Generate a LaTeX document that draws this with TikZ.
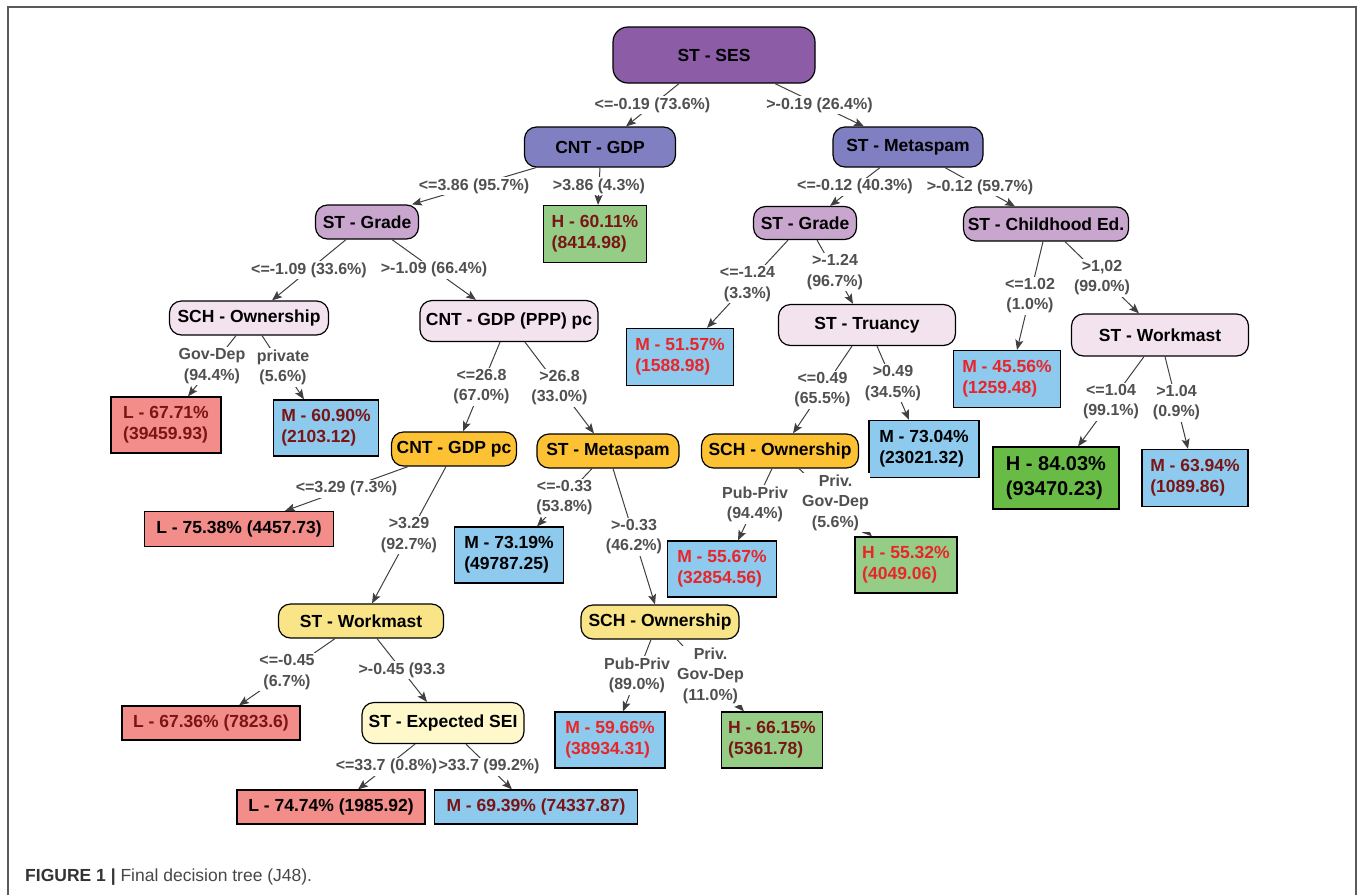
\documentclass[tikz,border=0pt]{standalone}
\usepackage{fontspec}
\setmainfont{Liberation Sans}
\usetikzlibrary{arrows.meta}
\definecolor{cRoot}{HTML}{8C5DA6}
\definecolor{cTwo}{HTML}{7F7FC1}
\definecolor{cThree}{HTML}{C8A6CE}
\definecolor{cFour}{HTML}{F2E3EF}
\definecolor{cOrange}{HTML}{FCC233}
\definecolor{cYellow}{HTML}{F9E588}
\definecolor{cPale}{HTML}{FEF8CA}
\definecolor{cLow}{HTML}{F28D89}
\definecolor{cMid}{HTML}{8DCAEE}
\definecolor{cHigh}{HTML}{95CD87}
\definecolor{cHighB}{HTML}{68BC45}
\definecolor{tRed}{HTML}{E8262A}
\definecolor{tDark}{HTML}{7A1515}
\definecolor{lblgray}{HTML}{505050}
\definecolor{linegray}{HTML}{404040}
\definecolor{framegray}{HTML}{5A5A5A}
\newcommand\boxfont{\fontsize{17.5}{21}\selectfont\bfseries}
\newcommand\condfont{\fontsize{16}{20.5}\selectfont\bfseries}
\tikzset{
  sz/.style 2 args={minimum width=#1pt, minimum height=#2pt},
  splitnode/.style={draw=black, line width=1.2pt, rounded corners=12pt,
    font=\boxfont, inner sep=2pt},
  leafnode/.style={draw=black, line width=1.2pt, font=\boxfont,
    align=left, inner sep=2pt},
  cond/.style={fill=white, font=\condfont, text=lblgray, align=center,
    inner sep=1.5pt},
  branch/.style={draw=linegray, line width=1pt,
    -{Stealth[length=10pt,width=8pt,inset=2pt]}},
  frame/.style={draw=framegray, line width=1.5pt}
}
\begin{document}
\begin{tikzpicture}[x=1pt,y=-1pt]
  \useasboundingbox (0,0) rectangle (1360,895);
  \draw[frame] (8,895) -- (8,7) -- (1356,7) -- (1356,895);

  \node[splitnode, fill=cRoot, sz={202}{56}, rounded corners=15pt] (ses) at (714,55) {ST - SES};
  \node[splitnode, fill=cTwo, sz={151}{40}] (gdp) at (600,147) {CNT - GDP};
  \node[splitnode, fill=cTwo, sz={150}{40}] (meta) at (908,147) {ST - Metaspam};
  \node[splitnode, fill=cThree, sz={103}{34}] (gradeL) at (367,222) {ST - Grade};
  \node[leafnode, fill=cHigh, text=tDark, sz={103}{57}] (h6011) at (595,234) {H - 60.11\%\\(8414.98)};
  \node[splitnode, fill=cThree, sz={103}{33}] (gradeR) at (805,223) {ST - Grade};
  \node[splitnode, fill=cThree, sz={165}{34}] (child) at (1046,224) {ST - Childhood Ed.};

  \node[splitnode, fill=cFour, sz={159}{34}] (own1) at (249,318) {SCH - Ownership};
  \node[splitnode, fill=cFour, sz={178}{41}] (ppp) at (509,321) {CNT - GDP (PPP) pc};
  \node[leafnode, fill=cLow, text=tDark, sz={110}{56}] (l6771) at (166,425) {L - 67.71\%\\(39459.93)};
  \node[leafnode, fill=cMid, text=tDark, sz={105}{56}] (m6090) at (326,428) {M - 60.90\%\\(2103.12)};
  \node[splitnode, fill=cOrange, sz={125}{34}] (gdppc) at (454,449) {CNT - GDP pc};
  \node[splitnode, fill=cOrange, sz={142}{34}] (meta2) at (608,451) {ST - Metaspam};
  \node[leafnode, fill=cLow, sz={189}{35}] (l7538) at (239,529) {L - 75.38\% (4457.73)};
  \node[leafnode, fill=cMid, sz={109}{56}] (m7319) at (509,555) {M - 73.19\%\\(49787.25)};

  \node[splitnode, fill=cFour, sz={177}{41}] (truancy) at (867,325) {ST - Truancy};
  \node[leafnode, fill=cMid, text=tRed, sz={107}{57}] (m5157) at (680,357) {M - 51.57\%\\(1588.98)};
  \node[leafnode, fill=cMid, text=tRed, sz={107}{57}] (m4556) at (1007,379) {M - 45.56\%\\(1259.48)};
  \node[splitnode, fill=cFour, sz={177}{42}] (work2) at (1160,335) {ST - Workmast};
  \node[splitnode, fill=cOrange, sz={157}{34}] (own2) at (780,451) {SCH - Ownership};
  \node[leafnode, fill=cMid, sz={110}{57}] (m7304) at (924,449) {M - 73.04\%\\(23021.32)};
  \node[leafnode, fill=cHighB, sz={126}{62}, font={\fontsize{20}{25}\selectfont\bfseries}] (h8403) at (1056,478) {H - 84.03\%\\(93470.23)};
  \node[leafnode, fill=cMid, text=tDark, sz={106}{57}] (m6394) at (1195,478) {M - 63.94\%\\(1089.86)};
  \node[leafnode, fill=cMid, text=tRed, sz={109}{56}] (m5567) at (722,569) {M - 55.67\%\\(32854.56)};
  \node[leafnode, fill=cHigh, text=tRed, sz={102}{56}] (h5532) at (906,565) {H - 55.32\%\\(4049.06)};

  \node[splitnode, fill=cYellow, sz={165}{34}] (work1) at (361,621) {ST - Workmast};
  \node[splitnode, fill=cYellow, sz={158}{34}] (own3) at (660,622) {SCH - Ownership};
  \node[leafnode, fill=cLow, text=tDark, sz={178}{34}] (l6736) at (211,723) {L - 67.36\% (7823.6)};
  \node[splitnode, fill=cPale, sz={162}{41}] (sei) at (443,723) {ST - Expected SEI};
  \node[leafnode, fill=cMid, text=tRed, sz={110}{56}] (m5966) at (610,740) {M - 59.66\%\\(38934.31)};
  \node[leafnode, fill=cHigh, text=tDark, sz={101}{56}] (h6615) at (772,740) {H - 66.15\%\\(5361.78)};
  \node[leafnode, fill=cLow, sz={188}{34}] (l7474) at (331,807) {L - 74.74\% (1985.92)};
  \node[leafnode, fill=cMid, text=tDark, sz={203}{34}] (m6939) at (536,807) {M - 69.39\% (74337.87)};

  \draw[branch] ([xshift=-35]ses.south) -- node[cond] {<=-0.19 (73.6\%)} ([xshift=26]gdp.north);
  \draw[branch] ([xshift=61]ses.south) -- node[cond] {>-0.19 (26.4\%)} ([xshift=-44]meta.north);
  \draw[branch] ([xshift=-64]gdp.south) -- node[cond] {<=3.86 (95.7\%)} ([xshift=45]gradeL.north);
  \draw[branch] ([xshift=0]gdp.south) -- node[cond] {>3.86 (4.3\%)} ([xshift=3]h6011.north);
  \draw[branch] ([xshift=-28]meta.south) -- node[cond] {<=-0.12 (40.3\%)} ([xshift=25]gradeR.north);
  \draw[branch] ([xshift=37]meta.south) -- node[cond] {>-0.12 (59.7\%)} ([xshift=-31]child.north);
  \draw[branch] ([xshift=-21]gradeL.south) -- node[cond] {<=-1.09 (33.6\%)} ([xshift=23]own1.north);
  \draw[branch] ([xshift=25]gradeL.south) -- node[cond] {>-1.09 (66.4\%)} ([xshift=-33]ppp.north);
  \draw[branch] ([xshift=-13]own1.south) -- node[cond] {Gov-Dep\\(94.4\%)} ([xshift=22]l6771.north);
  \draw[branch] ([xshift=13]own1.south) -- node[cond] {private\\(5.6\%)} ([xshift=-22]m6090.north);
  \draw[branch] ([xshift=-9]ppp.south) -- node[cond] {<=26.8\\(67.0\%)} ([xshift=9]gdppc.north);
  \draw[branch] ([xshift=16]ppp.south) -- node[cond] {>26.8\\(33.0\%)} ([xshift=-14]meta2.north);
  \draw[branch] ([xshift=-46]gdppc.south) -- node[cond] {<=3.29 (7.3\%)} ([xshift=46]l7538.north);
  \draw[branch] ([xshift=-8]gdppc.south) -- node[cond] {>3.29\\(92.7\%)} ([xshift=11]work1.north);
  \draw[branch] ([xshift=-16]meta2.south) -- node[cond] {<=-0.33\\(53.8\%)} ([xshift=28]m7319.north);
  \draw[branch] ([xshift=5]meta2.south) -- node[cond] {>-0.33\\(46.2\%)} ([xshift=-5]own3.north);
  \draw[branch] ([xshift=-17]gradeR.south) -- node[cond] {<=-1.24\\(3.3\%)} ([xshift=27]m5157.north);
  \draw[branch] ([xshift=12]gradeR.south) -- node[cond] {>-1.24\\(96.7\%)} ([xshift=-14]truancy.north);
  \draw[branch] ([xshift=-3]child.south) -- node[cond] {<=1.02\\(1.0\%)} ([xshift=10]m4556.north);
  \draw[branch] ([xshift=19]child.south) -- node[cond] {>1,02\\(99.0\%)} ([xshift=-21]work2.north);
  \draw[branch] ([xshift=-15]truancy.south) -- node[cond] {<=0.49\\(65.5\%)} ([xshift=13]own2.north);
  \draw[branch] ([xshift=10]truancy.south) -- node[cond] {>0.49\\(34.5\%)} ([xshift=-15]m7304.north);
  \draw[branch] ([xshift=-16]work2.south) -- node[cond] {<=1.04\\(99.1\%)} ([xshift=22]h8403.north);
  \draw[branch] ([xshift=5]work2.south) -- node[cond] {>1.04\\(0.9\%)} ([xshift=-7]m6394.north);
  \draw[branch] ([xshift=-8]own2.south) -- node[cond] {Pub-Priv\\(94.4\%)} ([xshift=16]m5567.north);
  \draw[branch] ([xshift=19]own2.south) -- node[cond] {Priv.\\Gov-Dep\\(5.6\%)} ([xshift=-34]h5532.north);
  \draw[branch] ([xshift=-26]work1.south) -- node[cond] {<=-0.45\\(6.7\%)} ([xshift=28]l6736.north);
  \draw[branch] ([xshift=16]work1.south) -- node[cond] {>-0.45 (93.3} ([xshift=-16]sei.north);
  \draw[branch] ([xshift=-9]own3.south) -- node[cond] {Pub-Priv\\(89.0\%)} ([xshift=13]m5966.north);
  \draw[branch] ([xshift=17]own3.south) -- node[cond] {Priv.\\Gov-Dep\\(11.0\%)} ([xshift=-28]h6615.north);
  \draw[branch] ([xshift=-28]sei.south) -- node[cond] {<=33.7 (0.8\%)} ([xshift=27]l7474.north);
  \draw[branch] ([xshift=23]sei.south) -- node[cond] {>33.7 (99.2\%)} ([xshift=-24]m6939.north);

  \node[anchor=base west, inner sep=0pt, font=\fontsize{17.5}{21}\selectfont] (caption) at (25,881)
    {\textcolor{black!80}{\bfseries FIGURE 1 |} \textcolor{black!72}{Final decision tree (J48).}};
\end{tikzpicture}
\end{document}
